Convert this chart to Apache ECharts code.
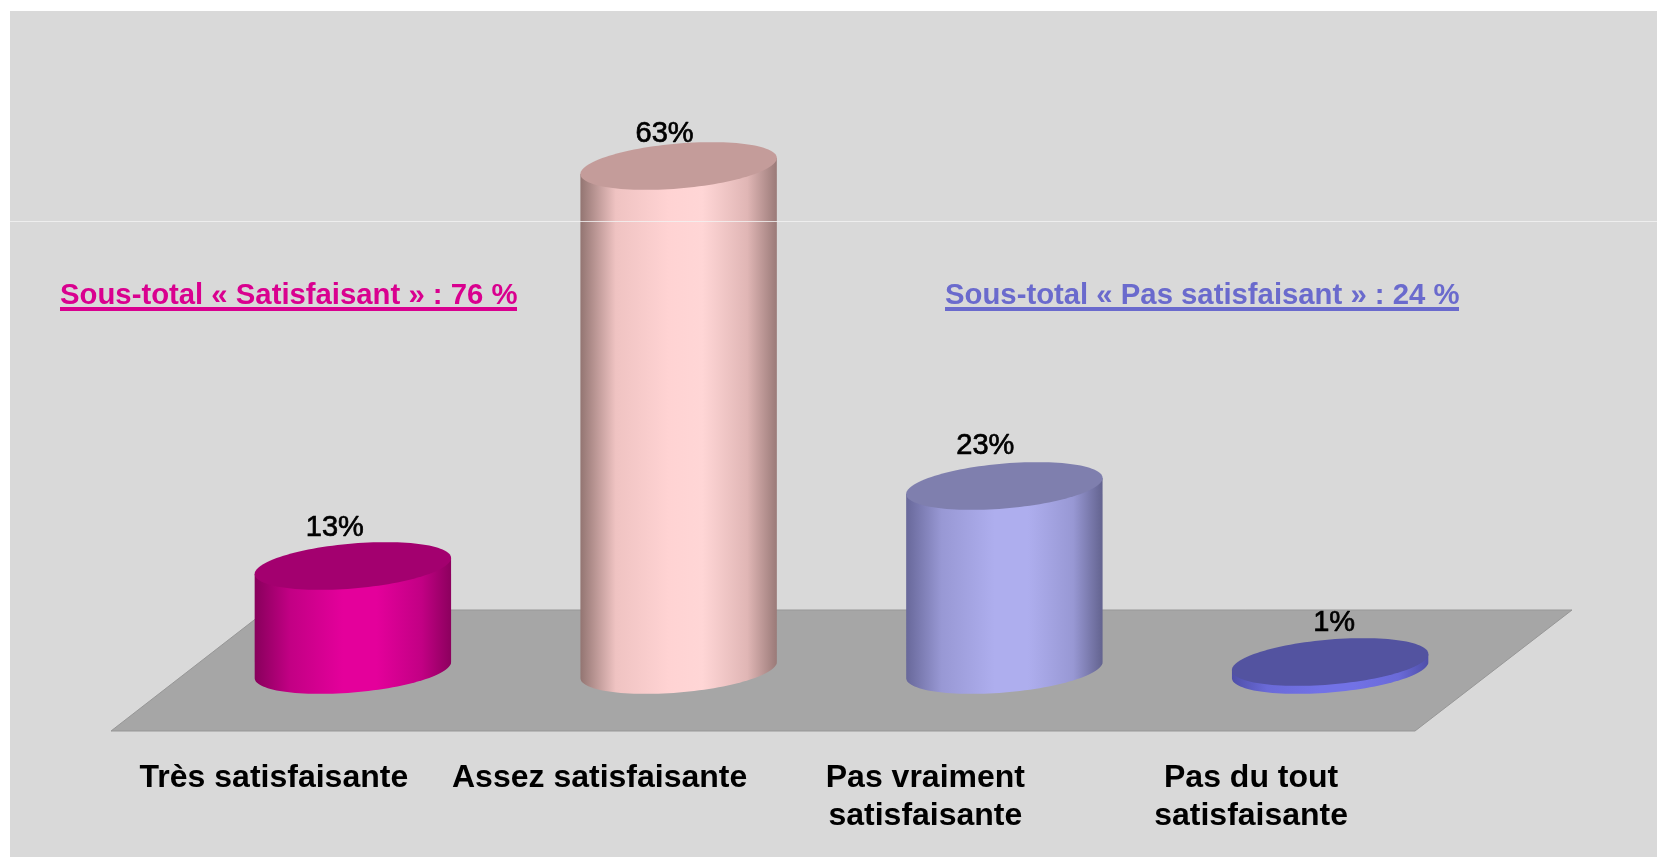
<!DOCTYPE html>
<html>
<head>
<meta charset="utf-8">
<title>Satisfaction</title>
<script src="https://cdn.jsdelivr.net/npm/echarts@6/dist/echarts.min.js"></script>
<style>
    html, body { margin: 0; padding: 0; background: #fff; }
    #chart { width: 1657px; height: 857px; }
</style>
</head>
<body>
<div id="chart"></div>
<script>
    var categories = ['Très satisfaisante', 'Assez satisfaisante', 'Pas vraiment\nsatisfaisante', 'Pas du tout\nsatisfaisante'];
    var values = [13, 63, 23, 1];
    var subTotalGood = 'Sous-total « Satisfaisant » : 76 %';
    var subTotalBad = 'Sous-total « Pas satisfaisant » : 24 %';

    // side gradient and top colour of each cylinder
    var sideColors = [
        ['#88005c', '#c20084', '#e4009b', '#e4009b', '#c20084', '#8c005e'],
        ['#937572', '#efc3c2', '#ffd3d3', '#ffd6d6', '#e0b6b5', '#9a7a78'],
        ['#68689a', '#9898d4', '#aeaeee', '#aeaeee', '#9898d4', '#63638f'],
        ['#4f4fa8', '#6a6ad8', '#7272e6', '#7272e6', '#6a6ad8', '#4f4fa8']
    ];
    var topColors = ['#a3006f', '#c49c9a', '#7f7fae', '#5353a0'];
    // the percent labels do not sit at the same distance from the tops
    var labelShift = [[-18, -38], [-14, -32], [-19, -40], [4, -39]];

    var chart = echarts.init(document.getElementById('chart'));

    function renderCylinder(params, api) {
        var i = api.value(0);
        var top = api.coord([i, api.value(1)]);
        var base = api.coord([i, 0]);
        var a = api.size([1, 0])[0] * 0.3015;
        var b = 22.5, tilt = 8;
        var cx = top[0];
        var body = [], lid = [];
        var t, n;
        for (n = 0; n <= 60; n++) {
            t = Math.PI * n / 60;
            body.push([cx + a * Math.cos(t), base[1] - tilt * Math.cos(t) + b * Math.sin(t)]);
        }
        body.push([cx - a, top[1] + tilt]);
        body.push([cx + a, top[1] - tilt]);
        for (n = 0; n < 120; n++) {
            t = Math.PI * n / 60;
            lid.push([cx + a * Math.cos(t), top[1] - tilt * Math.cos(t) + b * Math.sin(t)]);
        }
        var c = sideColors[i];
        return {
            type: 'group',
            children: [
                {
                    type: 'polygon',
                    shape: { points: body },
                    style: {
                        fill: {
                            type: 'linear', x: 0, y: 0, x2: 1, y2: 0,
                            colorStops: [
                                { offset: 0, color: c[0] },
                                { offset: 0.18, color: c[1] },
                                { offset: 0.45, color: c[2] },
                                { offset: 0.62, color: c[3] },
                                { offset: 0.85, color: c[4] },
                                { offset: 1, color: c[5] }
                            ]
                        }
                    }
                },
                {
                    type: 'polygon',
                    shape: { points: lid },
                    style: { fill: topColors[i] }
                },
                {
                    type: 'text',
                    z2: 10,
                    style: {
                        text: api.value(1) + '%',
                        x: cx + labelShift[i][0],
                        y: top[1] + labelShift[i][1],
                        align: 'center',
                        verticalAlign: 'middle',
                        fill: '#000',
                        stroke: '#000',
                        lineWidth: 0.7,
                        font: '29px "Liberation Sans", Arial, sans-serif'
                    }
                }
            ]
        };
    }

    chart.setOption({
        backgroundColor: '#fff',
        animation: false,
        grid: { left: 190, right: 164, top: 30, bottom: 187 },
        xAxis: {
            type: 'category',
            data: categories,
            axisLine: { show: false },
            axisTick: { show: false },
            axisLabel: {
                interval: 0,
                margin: 89,
                padding: [0, 158, 0, 0],
                color: '#000',
                fontFamily: '"Liberation Sans", Arial, sans-serif',
                fontWeight: 'bold',
                fontSize: 32,
                lineHeight: 38
            }
        },
        yAxis: { type: 'value', min: 0, max: 80, show: false },
        graphic: [
            // panel and floor
            { type: 'rect', z: 0, shape: { x: 10, y: 11, width: 1647, height: 846 }, style: { fill: '#d9d9d9' } },
            {
                type: 'polygon', z: 1,
                shape: { points: [[111, 731], [267, 610], [1572, 610], [1415, 731]] },
                style: { fill: '#a6a6a6', stroke: '#979797', lineWidth: 1 }
            },
            // thin light line across the picture
            { type: 'rect', z: 50, shape: { x: 10, y: 221, width: 1647, height: 1 }, style: { fill: '#f2f2f2', opacity: 0.8 } },
            // sub totals, with hand made underline
            {
                type: 'text', z: 60, x: 60, y: 296,
                style: { text: subTotalGood, fill: '#d9008f', verticalAlign: 'middle', font: 'bold 29.3px "Liberation Sans", Arial, sans-serif' }
            },
            { type: 'rect', z: 60, shape: { x: 60, y: 307, width: 457, height: 4 }, style: { fill: '#d9008f' } },
            {
                type: 'text', z: 60, x: 945, y: 296,
                style: { text: subTotalBad, fill: '#6a6acd', verticalAlign: 'middle', font: 'bold 29.3px "Liberation Sans", Arial, sans-serif' }
            },
            { type: 'rect', z: 60, shape: { x: 945, y: 307, width: 514, height: 4 }, style: { fill: '#6a6acd' } }
        ],
        series: [{
            type: 'custom',
            renderItem: renderCylinder,
            encode: { x: 0, y: 1 },
            data: values.map(function (v, i) { return [i, v]; })
        }]
    });
</script>
</body>
</html>
